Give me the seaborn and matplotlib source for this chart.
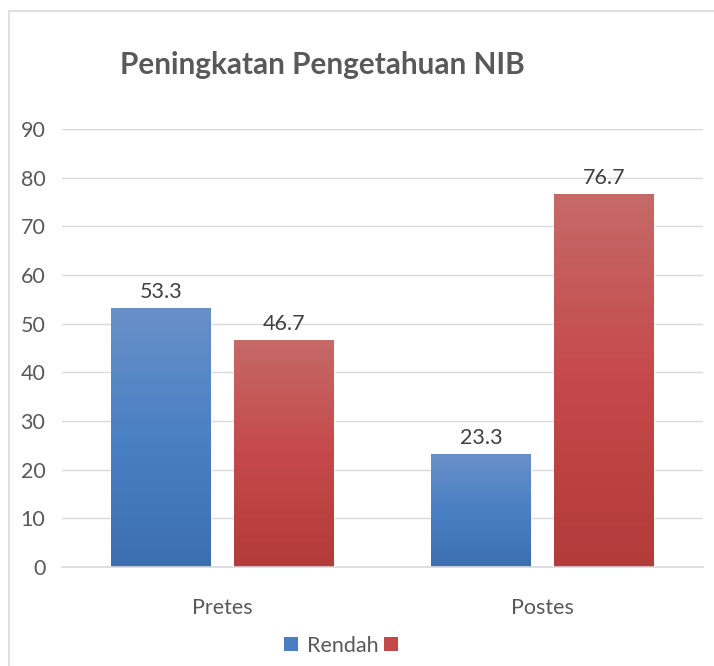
import numpy as np
import pandas as pd
import matplotlib
matplotlib.use("Agg")
import matplotlib.pyplot as plt
from matplotlib.colors import LinearSegmentedColormap
from matplotlib.patches import Patch, Rectangle
import seaborn as sns

# data
tes = ["Pretes", "Postes"]
series = ["Rendah", ""]          # second series has no name in the source
rendah = [53.3, 23.3]
tinggi = [46.7, 76.7]
yticks = [0, 10, 20, 30, 40, 50, 60, 70, 80, 90]
title = "Peningkatan Pengetahuan NIB"

BLUE = "#4a7ec2"
RED = "#c24a48"
GRAD = {
    "Rendah": ["#3b6fb1", "#4a80c4", "#6990c8"],
    "": ["#b33b3a", "#c5494a", "#c66a68"],
}
FS = 15.5

df = pd.DataFrame({
    "tes": tes * 2,
    "seri": [series[0]] * 2 + [series[1]] * 2,
    "persen": rendah + tinggi,
})

sns.set_style("white")
plt.rcParams["font.family"] = ["Lato", "DejaVu Sans"]

fig = plt.figure(figsize=(7.14, 6.66), dpi=100)
ax = fig.add_axes([62 / 714, 1 - 567 / 666, (703 - 62) / 714, (567 - 129) / 666])

sns.barplot(data=df, x="tes", y="persen", hue="seri", hue_order=series,
            order=tes, palette={series[0]: BLUE, series[1]: RED},
            width=0.768, gap=0.1875, saturation=1, legend=False, ax=ax)

# vertical gradient fill clipped to each bar
grad = np.linspace(0, 1, 256).reshape(-1, 1)
for cont, name in zip(ax.containers, series):
    cmap = LinearSegmentedColormap.from_list(name or "tinggi", GRAD[name])
    for bar in cont:
        x0, y0 = bar.get_x(), bar.get_y()
        w, h = bar.get_width(), bar.get_height()
        bar.set_facecolor("none")
        im = ax.imshow(grad, cmap=cmap, origin="lower", aspect="auto",
                       extent=[x0, x0 + w, y0, y0 + h], zorder=bar.get_zorder())
        im.set_clip_path(bar)
    ax.bar_label(cont, fmt="%.1f", padding=4, fontsize=FS, color="#404040")

ax.set_xlim(-0.5, 1.5)
ax.set_ylim(0, 90)
ax.set_yticks(yticks)
ax.yaxis.grid(True, color="#d9d9d9", lw=1.0)
ax.set_axisbelow(True)
ax.tick_params(axis="both", length=0, labelsize=FS, colors="#595959")
ax.tick_params(axis="y", pad=12)
ax.tick_params(axis="x", pad=22)
ax.set_xlabel("")
ax.set_ylabel("")
for s in ["left", "right", "top"]:
    ax.spines[s].set_visible(False)
ax.spines["bottom"].set_color("#d9d9d9")
ax.spines["bottom"].set_linewidth(1.2)

fig.text(322 / 714, 1 - 74 / 666, title, ha="center", va="baseline",
         fontsize=21.4, fontweight="bold", color="#595959")

handles = [Patch(facecolor=BLUE, edgecolor="none"),
           Patch(facecolor=RED, edgecolor="none")]
fig.legend(handles, series, loc="center", bbox_to_anchor=(0.484, 1 - 645.5 / 666),
           ncol=2, frameon=False, fontsize=FS, labelcolor="#595959",
           handlelength=0.65, handleheight=0.65, handletextpad=0.4,
           columnspacing=0.25, borderpad=0)

# light outer frame like the chart area border
fig.patches.append(Rectangle((9 / 714, -0.1), 1.2, 1 - 11 / 666 + 0.1,
                             transform=fig.transFigure, fill=False,
                             edgecolor="#d9d9d9", lw=1.2))

fig.savefig("out.png", dpi=100)
